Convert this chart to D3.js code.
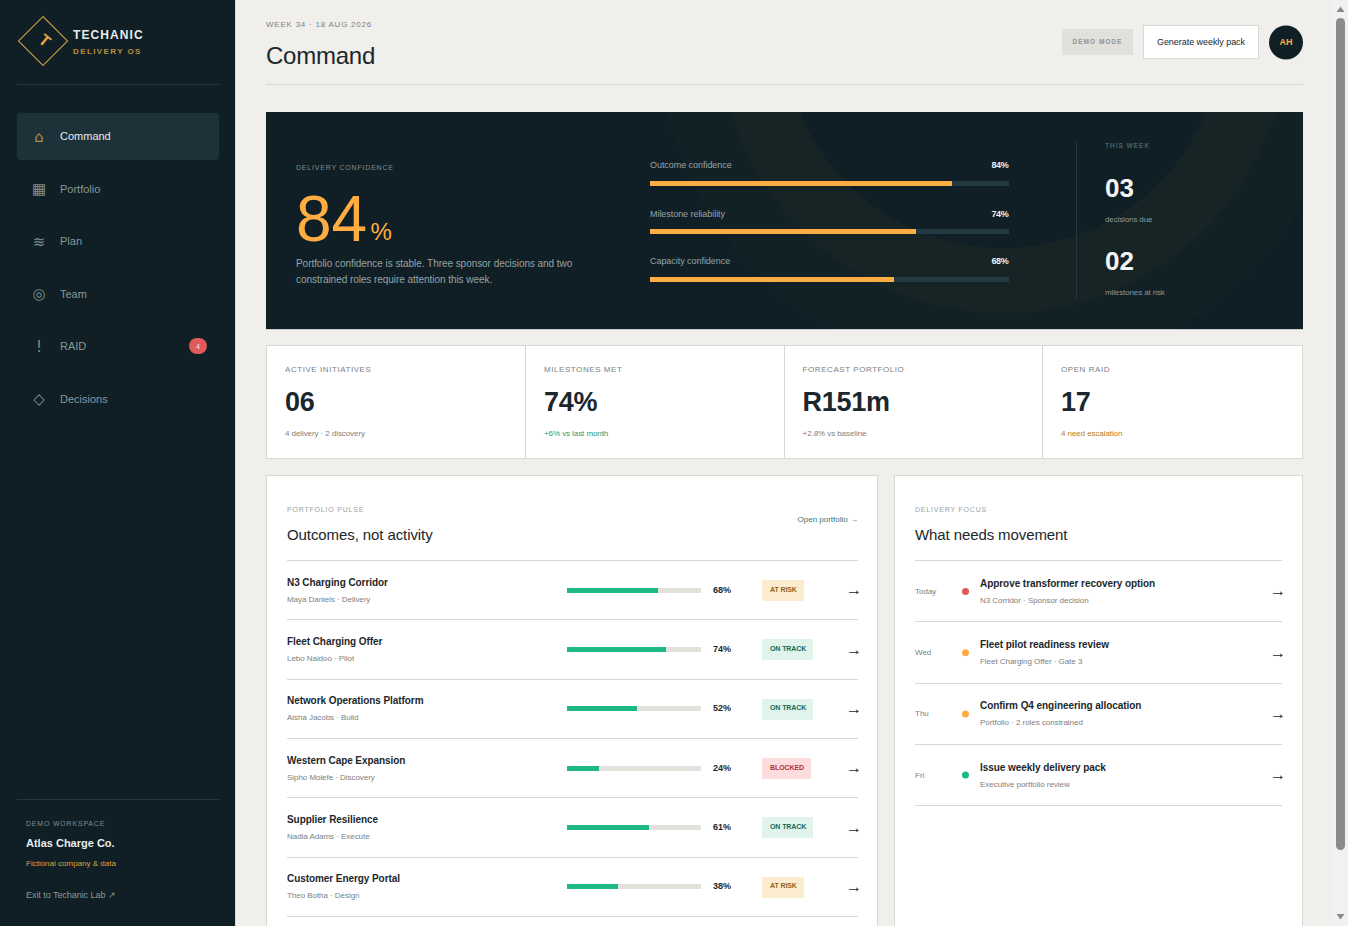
<!DOCTYPE html>
<html>
<head>
<meta charset="utf-8">
<title>Command</title>
<script src="https://cdn.jsdelivr.net/npm/d3@7"></script>
<style>
  html, body { margin: 0; padding: 0; background: #f0efeb; overflow: hidden; }
  svg { display: block; }
  text { font-family: "Liberation Sans", Arial, sans-serif; }
  line, rect { shape-rendering: crispEdges; }
</style>
</head>
<body>
<div id="chart-area"></div>
<script>
// nav
var navLabels = ["Command", "Portfolio", "Plan", "Team", "RAID", "Decisions"]
var navIcons = ["⌂", "▦", "≋", "◎", "!", "◇"]

// hero
var confidenceLabels = ["Outcome confidence", "Milestone reliability", "Capacity confidence"]
var confidenceValues = [84, 74, 68]
var thisWeekValues = ["03", "02"]
var thisWeekLabels = ["decisions due", "milestones at risk"]

// kpis
var kpiLabels = ["ACTIVE INITIATIVES", "MILESTONES MET", "FORECAST PORTFOLIO", "OPEN RAID"]
var kpiValues = ["06", "74%", "R151m", "17"]
var kpiNotes = ["4 delivery · 2 discovery", "+6% vs last month", "+2.8% vs baseline", "4 need escalation"]
var kpiNoteKinds = ["plain", "good", "plain", "warn"]

// portfolio pulse
var initiativeNames = ["N3 Charging Corridor", "Fleet Charging Offer", "Network Operations Platform", "Western Cape Expansion", "Supplier Resilience", "Customer Energy Portal"]
var initiativeOwners = ["Maya Daniels · Delivery", "Lebo Naidoo · Pilot", "Aisha Jacobs · Build", "Sipho Molefe · Discovery", "Nadia Adams · Execute", "Theo Botha · Design"]
var initiativeProgress = [68, 74, 52, 24, 61, 38]
var initiativeStatus = ["AT RISK", "ON TRACK", "ON TRACK", "BLOCKED", "ON TRACK", "AT RISK"]

// delivery focus
var focusDays = ["Today", "Wed", "Thu", "Fri"]
var focusTitles = ["Approve transformer recovery option", "Fleet pilot readiness review", "Confirm Q4 engineering allocation", "Issue weekly delivery pack"]
var focusNotes = ["N3 Corridor · Sponsor decision", "Fleet Charging Offer · Gate 3", "Portfolio · 2 roles constrained", "Executive portfolio review"]
var focusLevels = ["red", "amber", "amber", "green"]

var ink = "#1b272c", navy = "#0f1f25", amber = "#ffad42", green = "#1db886", line = "#d9d8d2", grey = "#8a8f90"

var statusStyle = {
  "AT RISK": { bg: "#fdedcf", fg: "#8f6420", w: 42 },
  "ON TRACK": { bg: "#e0f4ec", fg: "#17694f", w: 51 },
  "BLOCKED": { bg: "#fcdcdc", fg: "#b13434", w: 49 }
}
var dotColor = { red: "#dc5a5a", amber: "#ffad42", green: "#1db886" }
var noteColor = { plain: "#7b8183", good: "#1f9a75", warn: "#c07a14" }

var svg = d3.select("#chart-area").append("svg")
  .attr("width", 1348)
  .attr("height", 926)

function label(parent, x, y, str, size, fill, opts) {
  opts = opts || {}
  return parent.append("text")
    .attr("x", x)
    .attr("y", y)
    .attr("font-size", size)
    .attr("fill", fill)
    .attr("font-weight", opts.weight || "normal")
    .attr("letter-spacing", opts.ls || 0)
    .attr("text-anchor", opts.anchor || "start")
    .text(str)
}

function hline(parent, x1, x2, y, color) {
  parent.append("line")
    .attr("x1", x1).attr("x2", x2)
    .attr("y1", y + 0.5).attr("y2", y + 0.5)
    .attr("stroke", color)
}

/* ---------- sidebar ---------- */
var side = svg.append("g")

side.append("rect").attr("width", 235).attr("height", 926).attr("fill", navy)
side.append("rect").attr("x", 235).attr("width", 1).attr("height", 926).attr("fill", "#d9d8d2")

side.append("path")
  .attr("d", "M43 16.5L67.5 41L43 65.5L18.5 41Z")
  .attr("fill", "none")
  .attr("stroke", "#b8913f")
  .attr("stroke-width", 1.2)
side.append("text")
  .attr("transform", "translate(45,40) rotate(40)")
  .attr("y", 6)
  .attr("text-anchor", "middle")
  .attr("font-size", 16)
  .attr("font-weight", "bold")
  .attr("fill", "#e8a63f")
  .text("T")
label(side, 73, 39, "TECHANIC", 12, "#e8eceb", { weight: "bold", ls: 1.08 })
label(side, 73, 54, "DELIVERY OS", 8, "#b8913f", { weight: "bold", ls: 1.4 })
hline(side, 17, 219, 84, "#26383d")

var navY = d3.scaleLinear().domain([0, 5]).range([136.5, 399])

side.append("rect")
  .attr("x", 17).attr("y", 113)
  .attr("width", 202).attr("height", 47)
  .attr("rx", 4)
  .attr("fill", "#1d3238")

var navRows = side.selectAll("g.nav").data(navLabels).enter().append("g")
  .attr("class", "nav")
  .attr("transform", function(d, i) { return "translate(0," + navY(i) + ")" })

navRows.append("text")
  .attr("x", 39).attr("y", 5)
  .attr("text-anchor", "middle")
  .attr("font-size", 15)
  .attr("fill", function(d, i) { return i == 0 ? "#a8913f" : "#7f8d90" })
  .style("font-family", "'DejaVu Sans', sans-serif")
  .text(function(d, i) { return navIcons[i] })

navRows.append("text")
  .attr("x", 60).attr("y", 3.5)
  .attr("font-size", 11)
  .attr("fill", function(d, i) { return i == 0 ? "#e8eceb" : "#8a979a" })
  .text(function(d) { return d })

side.append("rect")
  .attr("x", 189).attr("y", 338)
  .attr("width", 18).attr("height", 16)
  .attr("rx", 8)
  .style("shape-rendering", "auto")
  .attr("fill", "#e05a5a")
label(side, 198, 348.5, "4", 7, "#f8e8e8", { anchor: "middle" })

hline(side, 17, 219, 799, "#26383d")
label(side, 26, 826, "DEMO WORKSPACE", 7, "#7f8d90", { ls: 0.8 })
label(side, 26, 847, "Atlas Charge Co.", 11, "#e8eceb", { weight: "bold" })
label(side, 26, 866, "Fictional company & data", 8, "#d9a441")
label(side, 26, 898, "Exit to Techanic Lab ↗", 9, "#8a979a", { ls: -0.05 })

/* ---------- header ---------- */
var head = svg.append("g")
label(head, 266, 27, "WEEK 34 · 18 AUG 2026", 8, "#7b8183", { ls: 0.77 })
label(head, 266, 64, "Command", 24, ink, { ls: -0.24 })
hline(head, 266, 1303, 84, line)

head.append("rect").attr("x", 1062).attr("y", 29).attr("width", 71).attr("height", 26).attr("fill", "#e2e0da")
label(head, 1097.5, 44, "DEMO MODE", 6.5, "#8f9394", { weight: "bold", ls: 1, anchor: "middle" })
head.append("rect")
  .attr("x", 1143.5).attr("y", 25.5)
  .attr("width", 115).attr("height", 33)
  .attr("fill", "#fff")
  .attr("stroke", line)
label(head, 1201, 44.5, "Generate weekly pack", 9, ink, { anchor: "middle", ls: -0.05 })
head.append("circle").attr("cx", 1286).attr("cy", 42.5).attr("r", 17).attr("fill", navy)
label(head, 1286, 45, "AH", 9, amber, { weight: "bold", anchor: "middle" })

/* ---------- hero ---------- */
var hero = svg.append("g")

svg.append("clipPath").attr("id", "hero-clip").append("rect")
  .attr("x", 266).attr("y", 112)
  .attr("width", 1037).attr("height", 217)

hero.append("rect")
  .attr("x", 266).attr("y", 112)
  .attr("width", 1037).attr("height", 217)
  .attr("fill", navy)
hero.append("rect").attr("x", 266).attr("y", 329).attr("width", 1037).attr("height", 1).attr("fill", "#c9d2d3")

var rings = hero.append("g").attr("clip-path", "url(#hero-clip)")
rings.append("circle").attr("cx", 1003).attr("cy", 28.5).attr("r", 347).attr("fill", "#122126")
rings.append("circle").attr("cx", 1003).attr("cy", 28.5).attr("r", 285).attr("fill", "#162426")
rings.append("circle").attr("cx", 1003).attr("cy", 28.5).attr("r", 219.5).attr("fill", navy)

label(hero, 296, 170, "DELIVERY CONFIDENCE", 7, "#7f8d90", { ls: 0.8 })
label(hero, 296, 241, "84", 64, amber)
label(hero, 370.6, 240, "%", 24, amber)
label(hero, 296, 267, "Portfolio confidence is stable. Three sponsor decisions and two", 10, "#97a3a5", { ls: -0.05 })
label(hero, 296, 283, "constrained roles require attention this week.", 10, "#97a3a5", { ls: -0.05 })

var heroX = d3.scaleLinear().domain([0, 100]).range([650, 1009])
var heroY = d3.scaleLinear().domain([0, 1, 2]).range([183.5, 231, 279.5])
var heroLabelY = d3.scaleLinear().domain([0, 1, 2]).range([168, 217, 264])

var conf = hero.selectAll("g.conf").data(confidenceValues).enter().append("g")
  .attr("class", "conf")

conf.append("rect")
  .attr("x", heroX(0)).attr("y", function(d, i) { return heroY(i) - 2.5 })
  .attr("width", heroX(100) - heroX(0)).attr("height", 5)
  .attr("fill", "#243a42")
conf.append("rect")
  .attr("x", heroX(0)).attr("y", function(d, i) { return heroY(i) - 2.5 })
  .attr("width", function(d) { return heroX(d) - heroX(0) }).attr("height", 5)
  .attr("fill", amber)
conf.append("text")
  .attr("x", heroX(0)).attr("y", function(d, i) { return heroLabelY(i) })
  .attr("font-size", 9)
  .attr("letter-spacing", -0.05)
  .attr("fill", "#97a3a5")
  .text(function(d, i) { return confidenceLabels[i] })
conf.append("text")
  .attr("x", heroX(100) - 0.5).attr("y", function(d, i) { return heroLabelY(i) })
  .attr("text-anchor", "end")
  .attr("font-size", 9)
  .attr("letter-spacing", -0.3)
  .attr("font-weight", "bold")
  .attr("fill", "#eef1f0")
  .text(function(d) { return d + "%" })

hero.append("rect").attr("x", 1076).attr("y", 141).attr("width", 1).attr("height", 159).attr("fill", "#26383d")
label(hero, 1105, 148, "THIS WEEK", 6.5, "#6f7f82", { ls: 1 })

var weekY = d3.scaleLinear().domain([0, 1]).range([197, 270])
thisWeekValues.forEach(function(v, i) {
  label(hero, 1105, weekY(i), v, 26, "#f4f5f3", { weight: "bold" })
  label(hero, 1105, weekY(i) + 25, thisWeekLabels[i], 8, "#8a979a", { ls: -0.12 })
})

/* ---------- kpis ---------- */
var kpi = svg.append("g")
var kpiEdges = [266, 525, 783.6, 1042]

kpi.append("rect")
  .attr("x", 266.5).attr("y", 345.5)
  .attr("width", 1036).attr("height", 113)
  .attr("fill", "#fff")
  .attr("stroke", line)

kpiLabels.forEach(function(d, i) {
  var x = kpiEdges[i]
  if (i > 0) {
    kpi.append("line")
      .attr("x1", Math.round(x) + 0.5).attr("x2", Math.round(x) + 0.5)
      .attr("y1", 346).attr("y2", 458)
      .attr("stroke", line)
  }
  label(kpi, x + 19, 372, d, 8, "#7b8183", { ls: 0.56 })
  label(kpi, x + 19, 411, kpiValues[i], 27, ink, { weight: "bold", ls: -0.27 })
  label(kpi, x + 19, 436, kpiNotes[i], 8, noteColor[kpiNoteKinds[i]], { ls: -0.08 })
})

/* ---------- portfolio pulse ---------- */
var pulse = svg.append("g")

pulse.append("rect")
  .attr("x", 266.5).attr("y", 475.5)
  .attr("width", 611).attr("height", 470)
  .attr("fill", "#fff")
  .attr("stroke", line)

label(pulse, 287, 512, "PORTFOLIO PULSE", 7, "#9a9fa0", { ls: 0.8 })
label(pulse, 287, 540, "Outcomes, not activity", 15, ink, { ls: -0.09 })
label(pulse, 858, 522, "Open portfolio →", 8, "#3f7573", { anchor: "end" })
hline(pulse, 287, 858, 560, line)

var rowY = d3.scaleLinear().domain([0, 1]).range([590, 649.35])
var progressX = d3.scaleLinear().domain([0, 100]).range([567, 701])

var rows = pulse.selectAll("g.row").data(initiativeProgress).enter().append("g")
  .attr("class", "row")
  .attr("transform", function(d, i) { return "translate(0," + rowY(i) + ")" })

rows.append("text")
  .attr("x", 287).attr("y", -4.5)
  .attr("font-size", 10)
  .attr("letter-spacing", -0.07)
  .attr("font-weight", "bold")
  .attr("fill", ink)
  .text(function(d, i) { return initiativeNames[i] })
rows.append("text")
  .attr("x", 287).attr("y", 11.5)
  .attr("font-size", 8)
  .attr("letter-spacing", -0.05)
  .attr("fill", "#7b8183")
  .text(function(d, i) { return initiativeOwners[i] })
rows.append("rect")
  .attr("x", progressX(0)).attr("y", -2.5)
  .attr("width", progressX(100) - progressX(0)).attr("height", 5)
  .attr("fill", "#e2e1db")
rows.append("rect")
  .attr("x", progressX(0)).attr("y", -2.5)
  .attr("width", function(d) { return progressX(d) - progressX(0) }).attr("height", 5)
  .attr("fill", green)
rows.append("text")
  .attr("x", 713).attr("y", 2.6)
  .attr("font-size", 9)
  .attr("font-weight", "bold")
  .attr("fill", ink)
  .text(function(d) { return d + "%" })
rows.append("rect")
  .attr("x", 762).attr("y", -10)
  .attr("height", 21)
  .attr("width", function(d, i) { return statusStyle[initiativeStatus[i]].w })
  .attr("fill", function(d, i) { return statusStyle[initiativeStatus[i]].bg })
rows.append("text")
  .attr("x", 770).attr("y", 1.6)
  .attr("font-size", 7)
  .attr("letter-spacing", -0.1)
  .attr("font-weight", "bold")
  .attr("fill", function(d, i) { return statusStyle[initiativeStatus[i]].fg })
  .text(function(d, i) { return initiativeStatus[i] })
rows.append("text")
  .attr("x", 862).attr("y", 5.3)
  .attr("text-anchor", "end")
  .attr("font-size", 16)
  .attr("fill", ink)
  .text("→")
rows.append("line")
  .attr("x1", 287).attr("x2", 858)
  .attr("y1", 29.8).attr("y2", 29.8)
  .attr("stroke", line)

/* ---------- delivery focus ---------- */
var focus = svg.append("g")

focus.append("rect")
  .attr("x", 894.5).attr("y", 475.5)
  .attr("width", 408).attr("height", 470)
  .attr("fill", "#fff")
  .attr("stroke", line)

label(focus, 915, 512, "DELIVERY FOCUS", 7, "#9a9fa0", { ls: 0.8 })
label(focus, 915, 540, "What needs movement", 15, ink, { ls: -0.1 })
hline(focus, 915, 1282, 560, line)

var focusY = d3.scaleLinear().domain([0, 1]).range([591, 652.2])

var items = focus.selectAll("g.item").data(focusTitles).enter().append("g")
  .attr("class", "item")
  .attr("transform", function(d, i) { return "translate(0," + focusY(i) + ")" })

items.append("text")
  .attr("x", 915).attr("y", 3)
  .attr("font-size", 8)
  .attr("fill", "#7b8183")
  .text(function(d, i) { return focusDays[i] })
items.append("circle")
  .attr("cx", 965.5).attr("cy", 0.5)
  .attr("r", 3.5)
  .attr("fill", function(d, i) { return dotColor[focusLevels[i]] })
items.append("text")
  .attr("x", 980).attr("y", -4)
  .attr("font-size", 10)
  .attr("letter-spacing", -0.06)
  .attr("font-weight", "bold")
  .attr("fill", ink)
  .text(function(d) { return d })
items.append("text")
  .attr("x", 980).attr("y", 12)
  .attr("font-size", 8)
  .attr("letter-spacing", -0.04)
  .attr("fill", "#7b8183")
  .text(function(d, i) { return focusNotes[i] })
items.append("text")
  .attr("x", 1286).attr("y", 5.3)
  .attr("text-anchor", "end")
  .attr("font-size", 16)
  .attr("fill", ink)
  .text("→")
items.append("line")
  .attr("x1", 915).attr("x2", 1282)
  .attr("y1", 30.9).attr("y2", 30.9)
  .attr("stroke", line)

/* ---------- scrollbar ---------- */
var bar = svg.append("g")
bar.append("rect").attr("x", 1333).attr("width", 15).attr("height", 926).attr("fill", "#f1f1f1")
bar.append("rect").attr("x", 1336).attr("y", 18).attr("width", 9).attr("height", 832).attr("rx", 4.5).style("shape-rendering", "auto").attr("fill", "#8a8a8a")
bar.append("path").attr("d", "M1336.5 12L1340.5 6.5L1344.5 12Z").attr("fill", "#8a8a8a")
bar.append("path").attr("d", "M1336.5 914L1340.5 919.5L1344.5 914Z").attr("fill", "#8a8a8a")
</script>
</body>
</html>
